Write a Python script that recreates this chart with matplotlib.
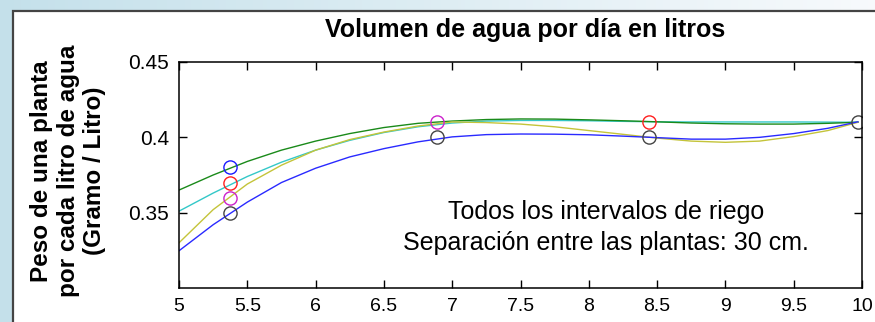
import numpy as np
import matplotlib.pyplot as plt
from matplotlib.patches import Rectangle

plt.rcParams['font.family'] = ['Liberation Sans', 'DejaVu Sans']

# Fitted curves
litros = [5.0, 5.25, 5.5, 5.75, 6.0, 6.25, 6.5, 6.75, 7.0, 7.25, 7.5,
          7.75, 8.0, 8.25, 8.5, 8.75, 9.0, 9.25, 9.5, 9.75, 9.97]
peso_verde = [0.365, 0.375, 0.384, 0.3915, 0.3975, 0.4025, 0.4065, 0.4093, 0.4108, 0.4118, 0.4122,
              0.4121, 0.4116, 0.411, 0.4103, 0.4095, 0.409, 0.4088, 0.4088, 0.4093, 0.410]
peso_cian = [0.351, 0.363, 0.374, 0.3835, 0.3915, 0.398, 0.4032, 0.407, 0.4095, 0.4108, 0.4112,
             0.4112, 0.411, 0.4106, 0.4103, 0.4102, 0.4102, 0.4102, 0.4102, 0.4101, 0.410]
peso_amarillo = [0.330, 0.352, 0.369, 0.3815, 0.3915, 0.3985, 0.4035, 0.4075, 0.4102, 0.4098, 0.4088,
                 0.407, 0.4045, 0.402, 0.3995, 0.3975, 0.3967, 0.3975, 0.4005, 0.4045, 0.410]
peso_azul = [0.3247, 0.342, 0.357, 0.370, 0.3795, 0.387, 0.3925, 0.397, 0.4003, 0.4018, 0.4022,
             0.4021, 0.4017, 0.4008, 0.3998, 0.3988, 0.3988, 0.400, 0.4025, 0.406, 0.4103]

# Measured points (circles)
azul_x, azul_y = [5.375], [0.38]
rojo_x, rojo_y = [5.375, 8.44], [0.37, 0.41]
magenta_x, magenta_y = [5.375, 6.89], [0.36, 0.41]
negro_x, negro_y = [5.375, 6.89, 8.44, 9.97], [0.35, 0.40, 0.40, 0.41]

xticks = [5, 5.5, 6, 6.5, 7, 7.5, 8, 8.5, 9, 9.5, 10]
xticklabels = ['5', '5.5', '6', '6.5', '7', '7.5', '8', '8.5', '9', '9.5', '10']
yticks = [0.35, 0.4, 0.45]
yticklabels = ['0.35', '0.4', '0.45']

W, H = 875, 322
fig = plt.figure(figsize=(W / 100, H / 100), dpi=100)

# background gradient + white panel
bg = fig.add_axes([0, 0, 1, 1], zorder=0)
grad = np.linspace(0, 1, 256)[None, :]
c0 = np.array([0.77, 0.88, 0.92])
c1 = np.array([0.97, 0.98, 0.99])
img = c0[None, None, :] * (1 - grad[..., None]) + c1[None, None, :] * grad[..., None]
bg.imshow(img, aspect='auto', extent=[0, 1, 0, 1])
bg.add_patch(Rectangle((12.5 / W, -0.05), 1.0, 1 - 11 / H + 0.05, facecolor='white',
                       edgecolor='#444444', linewidth=1.6))
bg.set_xlim(0, 1)
bg.set_ylim(0, 1)
bg.axis('off')

ax = fig.add_axes([179 / W, 1 - 288 / H, (862 - 179) / W, (288 - 62) / H], zorder=1)
ax.plot(litros, peso_cian, color='#33c8c8', lw=1.0)
ax.plot(litros, peso_verde, color='#1a8a1a', lw=1.0)
ax.plot(litros, peso_amarillo, color='#c4c43a', lw=1.0)
ax.plot(litros, peso_azul, color='#2a2aff', lw=1.0)

mk = dict(marker='o', ls='none', markersize=9.5, markerfacecolor='none', markeredgewidth=1.0)
ax.plot(azul_x, azul_y, markeredgecolor='#1a1aff', **mk)
ax.plot(rojo_x, rojo_y, markeredgecolor='#ff2020', **mk)
ax.plot(magenta_x, magenta_y, markeredgecolor='#cc22cc', **mk)
ax.plot(negro_x, negro_y, markeredgecolor='#444444', **mk)

ax.set_xlim(5, 10)
ax.set_ylim(0.3, 0.45)
ax.set_xticks(xticks)
ax.set_xticklabels(xticklabels, fontsize=14)
ax.set_yticks(yticks)
ax.set_yticklabels(yticklabels, fontsize=15)
ax.tick_params(direction='in', length=6, width=1, top=True, right=True, pad=7, colors='black')
for s in ax.spines.values():
    s.set_linewidth(1.1)

ax.text(0.625, 0.336, 'Todos los intervalos de riego', ha='center', va='center', fontsize=18,
        transform=ax.transAxes)
ax.text(0.625, 0.2, 'Separación entre las plantas: 30 cm.', ha='center', va='center', fontsize=18,
        transform=ax.transAxes)

fig.text(525 / W, 1 - 30 / H, 'Volumen de agua por día en litros', ha='center', va='center',
         fontsize=18, fontweight='bold')
fig.text(68 / W, 1 - 171 / H, 'Peso de una planta\npor cada litro de agua\n(Gramo / Litro)',
         ha='center', va='center', rotation=90, fontsize=17.5, fontweight='bold', linespacing=1.2)

fig.savefig('out.png', dpi=100)
